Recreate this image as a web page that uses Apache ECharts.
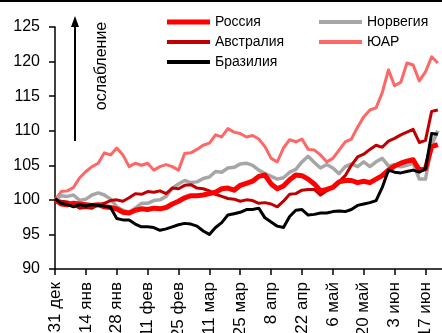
<!DOCTYPE html>
<html>
<head>
<meta charset="utf-8">
<script src="https://cdn.jsdelivr.net/npm/echarts@6/dist/echarts.min.js"></script>
<style>
  html, body { margin: 0; padding: 0; background: #fff; overflow: hidden; }
  #chart { width: 442px; height: 333px; }
</style>
</head>
<body>
<div id="chart"></div>
<script>
// Currency indices vs USD, 31 Dec = 100 (one point every two business days)
const seriesNames = ['Россия', 'Австралия', 'Бразилия', 'Норвегия', 'ЮАР'];

const russia = [
  100.0, 99.4, 99.3, 99.5, 99.4, 99.3, 99.2, 99.3, 99.0, 98.9,
  98.7, 98.2, 98.1, 98.5, 98.7, 98.6, 98.8, 98.7, 98.9, 99.4,
  99.8, 100.3, 100.6, 100.6, 100.7, 100.9, 101.1, 101.6, 101.7, 101.4,
  102.1, 102.4, 102.7, 103.4, 103.6, 102.3, 101.6, 102.0, 102.9, 103.6,
  103.5, 103.0, 102.3, 101.3, 101.5, 101.8, 102.6, 102.8, 102.8, 102.5,
  102.7, 102.5, 103.0, 103.5, 104.3, 104.9, 105.3, 105.6, 105.8, 104.3,
  104.5, 107.7, 108.0
];
const australia = [
  100.0, 99.8, 99.7, 99.3, 98.8, 98.9, 98.8, 99.3, 99.5, 99.9,
  100.0, 99.8, 100.3, 100.9, 100.8, 101.2, 101.1, 101.3, 100.9, 101.7,
  101.6, 102.1, 102.2, 101.7, 101.6, 101.3, 100.8, 100.5, 100.2, 100.1,
  99.8, 100.0, 99.9, 99.5, 99.6, 99.4, 99.0, 99.8, 100.8, 100.9,
  101.4, 101.5, 101.5, 100.7, 101.3, 101.8, 102.6, 103.5, 105.0, 106.2,
  106.6, 107.3, 107.9, 107.6, 108.5, 108.9, 109.4, 109.8, 110.2, 108.3,
  108.6, 112.8, 113.0
];
const brazil = [
  100.2, 99.5, 99.3, 99.0, 99.3, 99.1, 99.3, 99.2, 99.1, 98.9,
  97.3, 97.1, 97.1, 96.5, 96.1, 96.1, 96.0, 95.6, 95.8, 96.1,
  96.4, 96.6, 96.5, 96.2, 95.5, 95.0, 96.0, 96.7, 97.8, 98.0,
  98.2, 98.6, 98.6, 98.8, 97.4, 96.8, 96.2, 96.0, 97.6, 98.5,
  98.6, 97.8, 97.9, 98.1, 98.1, 98.3, 98.4, 98.3, 98.6, 99.2,
  99.4, 99.6, 99.9, 101.8, 104.3, 104.0, 103.9, 104.1, 104.3, 104.0,
  104.5, 109.6, 109.5
];
const norway = [
  100.0, 100.6, 100.5, 100.7, 99.9, 100.1, 100.7, 101.0, 100.7, 100.1,
  99.0, 98.5, 98.2, 98.8, 99.5, 99.5, 99.9, 100.0, 100.5, 101.7,
  102.3, 102.8, 102.5, 102.6, 103.1, 103.3, 104.1, 104.0, 104.6, 104.7,
  105.2, 105.3, 105.0, 104.3, 103.8, 103.4, 103.0, 103.2, 104.0, 104.4,
  105.5, 106.3, 105.4, 104.6, 105.1, 104.6, 103.8, 104.8, 105.2, 104.8,
  105.5, 104.8, 105.5, 106.0, 104.9, 105.1, 104.8, 105.0, 105.3, 103.0,
  103.0, 107.9, 110.0
];
const southAfrica = [
  100.0, 101.2, 101.3, 101.8, 103.2, 104.1, 104.8, 105.3, 106.8, 106.5,
  107.5, 106.5, 104.8, 105.3, 105.0, 105.3, 104.3, 104.8, 105.1, 104.8,
  104.3, 106.7, 106.8, 107.3, 107.9, 108.2, 109.4, 109.1, 110.3, 109.8,
  109.6, 109.1, 109.3, 108.8, 107.7, 106.0, 105.5, 107.5, 108.7, 108.4,
  108.8, 107.3, 107.2, 106.5, 105.5, 106.0, 107.2, 108.4, 108.8, 110.5,
  112.0, 113.0, 113.3, 115.5, 118.8, 116.5, 117.0, 119.8, 119.5, 117.2,
  118.5, 120.7, 119.8
];

const yTicks = { min: 90, max: 125, step: 5 };
const monthNames = ['янв', 'фев', 'мар', 'апр', 'май', 'июн', 'июл', 'авг', 'сен', 'окт', 'ноя', 'дек'];

// Category labels: every second business day starting from 31 Dec 2018
const startDate = new Date(2018, 11, 31);
const pointCount = 64;
const categories = [];
for (let j = 0; j < pointCount; j++) {
  const b = 2 * j;
  const d = new Date(startDate);
  d.setDate(d.getDate() + Math.floor(b / 5) * 7 + (b % 5));
  categories.push(d.getDate() + ' ' + monthNames[d.getMonth()]);
}

const FONT = '"Liberation Sans", Arial, sans-serif';

const styles = {
  'Россия':    { color: '#ff0000', width: 5,   legendBar: 5 },
  'Австралия': { color: '#c00000', width: 3,   legendBar: 4 },
  'Бразилия':  { color: '#000000', width: 3,   legendBar: 4 },
  'Норвегия':  { color: '#a6a6a6', width: 3.5, legendBar: 4 },
  'ЮАР':       { color: '#ff6666', width: 3,   legendBar: 4 }
};
const values = {
  'Россия': russia, 'Австралия': australia, 'Бразилия': brazil,
  'Норвегия': norway, 'ЮАР': southAfrica
};
// drawing order (last on top)
const drawOrder = ['ЮАР', 'Норвегия', 'Австралия', 'Россия', 'Бразилия'];

// Legend swatch: a horizontal bar of given thickness centred in a 43x14 box
function barIcon(t) {
  const y0 = 7 - t / 2, y1 = 7 + t / 2;
  return 'path://M0,0H0.5V0.01H0Z M0,' + y0 + 'H43V' + y1 + 'H0Z M0,13.99H0.5V14H0Z';
}
function legendData(names) {
  return names.map(n => ({ name: n, icon: barIcon(styles[n].legendBar), itemStyle: { color: styles[n].color, borderWidth: 0 } }));
}

const chart = echarts.init(document.getElementById('chart'), null, { renderer: 'canvas' });

const legendCommon = {
  orient: 'vertical',
  top: 15,
  itemWidth: 43,
  itemHeight: 14,
  itemGap: 6,
  padding: 0,
  itemStyle: { borderWidth: 0 },
  textStyle: { fontFamily: FONT, fontSize: 14, color: '#000' },
  selectedMode: false
};

chart.setOption({
  animation: false,
  backgroundColor: '#fff',
  textStyle: { fontFamily: FONT },
  grid: { left: 55, top: 27, width: 389, bottom: 64, containLabel: false, outerBoundsMode: 'none' },
  legend: [
    Object.assign({ left: 167, data: legendData(['Россия', 'Австралия', 'Бразилия']) }, legendCommon),
    Object.assign({ left: 319, data: legendData(['Норвегия', 'ЮАР']) }, legendCommon)
  ],
  xAxis: {
    type: 'category',
    data: categories,
    boundaryGap: false,
    axisLine: { lineStyle: { color: '#000', width: 1.5 } },
    axisTick: { interval: 4, length: 6, lineStyle: { color: '#000', width: 1.5 } },
    axisLabel: {
      interval: 4, rotate: 90, margin: 13,
      fontSize: 17, color: '#000', fontFamily: FONT
    },
    splitLine: { show: false }
  },
  yAxis: {
    type: 'value',
    min: yTicks.min, max: yTicks.max, interval: yTicks.step,
    axisLine: { show: true, lineStyle: { color: '#000', width: 1.5 } },
    axisTick: { show: true, length: 6, lineStyle: { color: '#000', width: 1.5 } },
    axisLabel: { margin: 15, fontSize: 16, color: '#000', fontFamily: FONT },
    splitLine: { show: false }
  },
  series: drawOrder.map(name => ({
    name: name,
    type: 'line',
    data: values[name],
    symbol: 'none',
    smooth: false,
    color: styles[name].color,
    lineStyle: { color: styles[name].color, width: styles[name].width, join: 'round' }
  })),
  graphic: [
    { type: 'rect', shape: { x: 0, y: 0, width: 442, height: 2 }, style: { fill: '#000' } },
    { type: 'line', shape: { x1: 75, y1: 141, x2: 75, y2: 24 }, style: { stroke: '#000', lineWidth: 2 } },
    { type: 'polygon', shape: { points: [[75, 16], [71, 27], [79, 27]] }, style: { fill: '#000' } },
    {
      type: 'text', x: 102, y: 66, rotation: Math.PI / 2,
      style: {
        text: 'ослабление', fill: '#000', font: '16px ' + FONT,
        align: 'center', verticalAlign: 'middle'
      }
    }
  ]
});
</script>
</body>
</html>
